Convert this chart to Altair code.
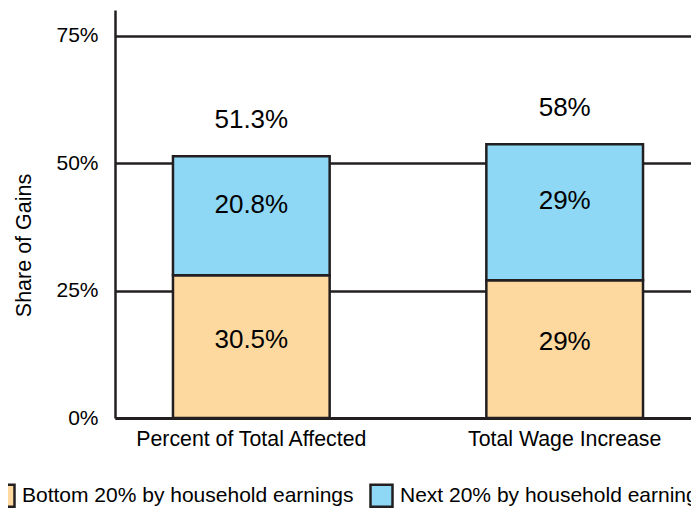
import altair as alt
import pandas as pd

categories = ["Percent of Total Affected", "Total Wage Increase"]
groups = ["Bottom 20% by household earnings", "Next 20% by household earnings"]
bottom_share = [28.0, 27.0]
next_share = [23.3, 26.7]
bottom_text = ["30.5%", "29%"]
next_text = ["20.8%", "29%"]
total_text = ["51.3%", "58%"]
y_ticks = [0, 25, 50, 75]
colors = ["#FDD9A0", "#8ED8F6"]

INK = "#231f20"
FONT = "Liberation Sans"

rows = []
for i, c in enumerate(categories):
    rows.append(dict(cat=c, group=groups[0], start=0.0, end=bottom_share[i], label=bottom_text[i]))
    rows.append(dict(cat=c, group=groups[1], start=bottom_share[i],
                     end=bottom_share[i] + next_share[i], label=next_text[i]))
df = pd.DataFrame(rows)
df["mid"] = (df["start"] + df["end"]) / 2

totals = pd.DataFrame({
    "cat": categories,
    "top": [b + n for b, n in zip(bottom_share, next_share)],
    "label": total_text,
})

x_scale = alt.Scale(paddingInner=0.5, paddingOuter=0.185, range=[0, 586])
x_enc = alt.X(
    "cat:N", sort=categories, scale=x_scale,
    axis=alt.Axis(title=None, ticks=False, labelAngle=0, labelPadding=10,
                  labelFontSize=21.3, labelColor="black", labelFont=FONT,
                  labelLimit=600, domainColor=INK, domainWidth=3),
)
y_scale = alt.Scale(domain=[0, 80], nice=False)

bars = alt.Chart(df).mark_bar(stroke=INK, strokeWidth=2.5).encode(
    x=x_enc,
    y=alt.Y("start:Q", scale=y_scale,
            axis=alt.Axis(values=y_ticks, labelExpr="datum.value + '%'",
                          title="Share of Gains", grid=True, gridColor=INK,
                          gridWidth=2.5, gridOpacity=1, domainColor=INK,
                          domainWidth=2.5, ticks=False, tickSize=0,
                          labelPadding=17, labelFontSize=21, labelColor="black",
                          labelFont=FONT, titleFont=FONT, titleFontSize=21.5,
                          titleFontWeight="normal", titleColor="black",
                          titleAngle=270, titleX=-91, titleY=235,
                          titleAlign="center", titleBaseline="middle")),
    y2="end:Q",
    color=alt.Color("group:N", scale=alt.Scale(domain=groups, range=colors),
                    legend=alt.Legend(title=None, orient="none", legendX=-124,
                                      legendY=473, direction="horizontal",
                                      symbolType="square", symbolSize=484,
                                      symbolStrokeColor=INK, symbolStrokeWidth=2.5,
                                      symbolOpacity=1, labelFontSize=21,
                                      labelFont=FONT, labelColor="black",
                                      labelLimit=600, labelOffset=6,
                                      columnPadding=11, padding=0)),
)

bottom_lbl = alt.Chart(df).transform_filter(
    alt.datum.group == groups[0]
).mark_text(font=FONT, fontSize=26, color="black", baseline="middle", dy=-7).encode(
    x=alt.X("cat:N", sort=categories, scale=x_scale), y=alt.Y("mid:Q", scale=y_scale), text="label:N"
)
next_lbl = alt.Chart(df).transform_filter(
    alt.datum.group == groups[1]
).mark_text(font=FONT, fontSize=26, color="black", baseline="middle", dy=-11).encode(
    x=alt.X("cat:N", sort=categories, scale=x_scale), y=alt.Y("mid:Q", scale=y_scale), text="label:N"
)
total_lbl = alt.Chart(totals).mark_text(
    font=FONT, fontSize=26, color="black", baseline="middle", dy=-36
).encode(
    x=alt.X("cat:N", sort=categories, scale=x_scale), y=alt.Y("top:Q", scale=y_scale), text="label:N"
)

chart = alt.layer(bars, bottom_lbl, next_lbl, total_lbl).properties(
    width=576, height=408,
    autosize=alt.AutoSizeParams(type="none"),
    padding={"left": 107, "top": 2, "right": 0, "bottom": 90},
).configure_view(stroke=None)

chart.save("out.html", embed_options={"renderer": "svg", "actions": False})
